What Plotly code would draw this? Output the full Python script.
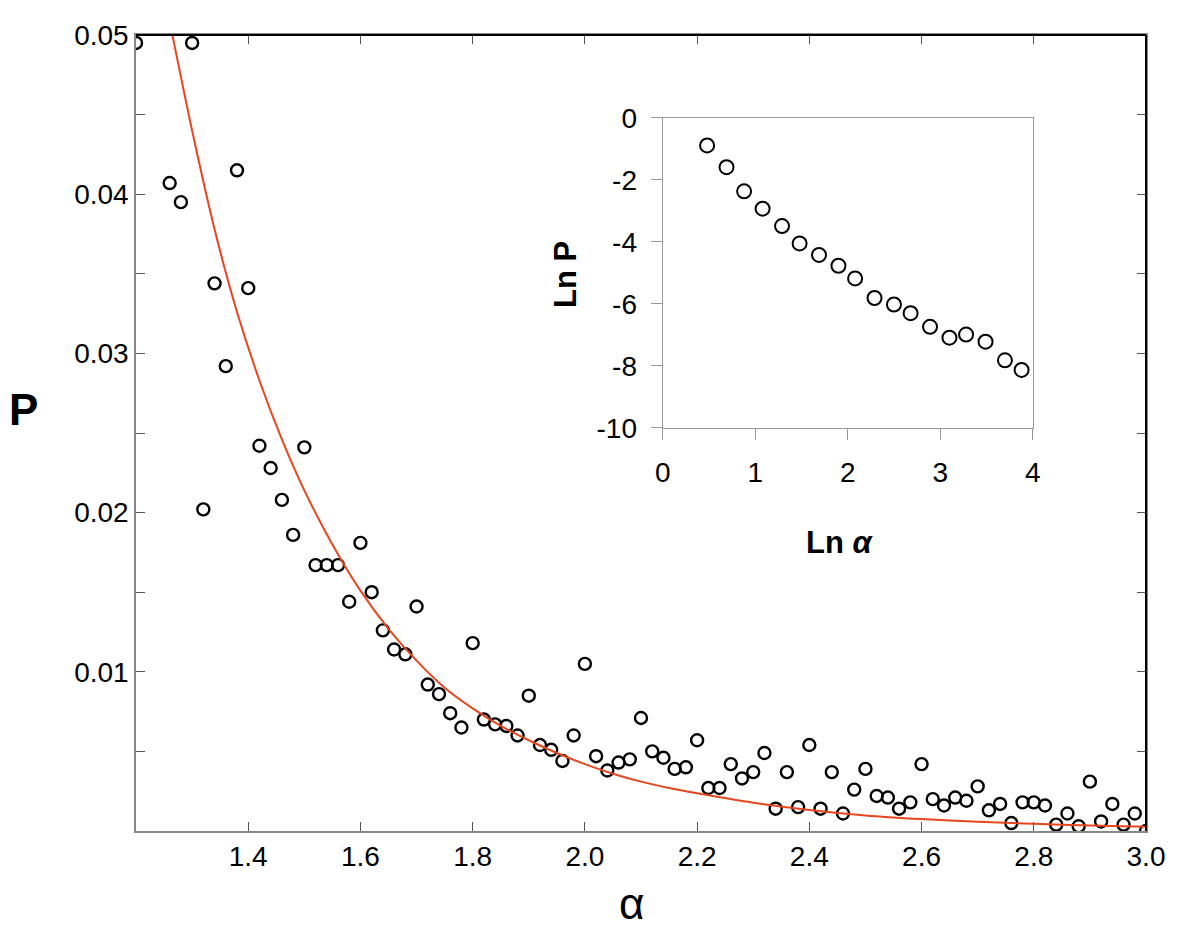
import plotly.graph_objects as go

# ---- main scatter data ----
alpha = [1.20, 1.26, 1.28, 1.30, 1.32, 1.34, 1.36, 1.38, 1.40, 1.42, 1.44, 1.46, 1.48, 1.50,
         1.52, 1.54, 1.56, 1.58, 1.60, 1.62, 1.64, 1.66, 1.68, 1.70, 1.72, 1.74, 1.76, 1.78,
         1.80, 1.82, 1.84, 1.86, 1.88, 1.90, 1.92, 1.94, 1.96, 1.98, 2.00, 2.02, 2.04, 2.06,
         2.08, 2.10, 2.12, 2.14, 2.16, 2.18, 2.20, 2.22, 2.24, 2.26, 2.28, 2.30, 2.32, 2.34,
         2.36, 2.38, 2.40, 2.42, 2.44, 2.46, 2.48, 2.50, 2.52, 2.54, 2.56, 2.58, 2.60, 2.62,
         2.64, 2.66, 2.68, 2.70, 2.72, 2.74, 2.76, 2.78, 2.80, 2.82, 2.84, 2.86, 2.88, 2.90,
         2.92, 2.94, 2.96, 2.98, 3.00]
P = [0.0495, 0.0407, 0.0395, 0.0495, 0.0202, 0.0344, 0.0292, 0.0415, 0.0341, 0.0242, 0.0228,
     0.0208, 0.0186, 0.0241, 0.0167, 0.0167, 0.0167, 0.0144, 0.0181, 0.0150, 0.0126, 0.0114,
     0.0111, 0.0141, 0.0092, 0.0086, 0.0074, 0.0065, 0.0118, 0.0070, 0.0067, 0.0066, 0.0060,
     0.0085, 0.0054, 0.0051, 0.0044, 0.0060, 0.0105, 0.0047, 0.0038, 0.0043, 0.0045, 0.0071,
     0.0050, 0.0046, 0.0039, 0.0040, 0.0057, 0.0027, 0.0027, 0.0042, 0.0033, 0.0037, 0.0049,
     0.0014, 0.0037, 0.0015, 0.0054, 0.0014, 0.0037, 0.0011, 0.0026, 0.0039, 0.0022, 0.0021,
     0.0014, 0.0018, 0.0042, 0.0020, 0.0016, 0.0021, 0.0019, 0.0028, 0.0013, 0.0017, 0.0005,
     0.0018, 0.0018, 0.0016, 0.0004, 0.0011, 0.0003, 0.0031, 0.0006, 0.0017, 0.0004, 0.0011,
     0.0000]

# ---- fitted curve ----
fit_alpha = [1.262, 1.30, 1.34, 1.38, 1.42, 1.46, 1.50, 1.55, 1.60, 1.65, 1.70, 1.75, 1.80,
             1.85, 1.90, 1.95, 2.00, 2.05, 2.10, 2.15, 2.20, 2.30, 2.40, 2.50, 2.60, 2.70,
             2.80, 2.90, 3.00]
fit_P = [0.0505, 0.0440, 0.0378, 0.0326, 0.0283, 0.0246, 0.0214, 0.0180, 0.0151, 0.0127,
         0.0107, 0.0090, 0.0077, 0.0066, 0.0057, 0.0049, 0.0042, 0.0036, 0.0031, 0.0027,
         0.00237, 0.00178, 0.00132, 0.00098, 0.00075, 0.00058, 0.00045, 0.00035, 0.00027]

# ---- inset data ----
ln_alpha = [0.48, 0.69, 0.88, 1.08, 1.29, 1.48, 1.69, 1.90, 2.08, 2.29, 2.50, 2.68, 2.89,
            3.10, 3.28, 3.49, 3.70, 3.88]
ln_P = [-0.89, -1.59, -2.37, -2.93, -3.49, -4.05, -4.42, -4.77, -5.18, -5.81, -6.02, -6.30,
        -6.74, -7.09, -6.99, -7.22, -7.82, -8.13]

# ---- tick labels ----
x_ticks = [1.4, 1.6, 1.8, 2.0, 2.2, 2.4, 2.6, 2.8, 3.0]
x_ticktext = ["1.4", "1.6", "1.8", "2.0", "2.2", "2.4", "2.6", "2.8", "3.0"]
y_ticks = [0.01, 0.02, 0.03, 0.04, 0.05]
y_ticktext = ["0.01", "0.02", "0.03", "0.04", "0.05"]
y_minor = [0.005, 0.015, 0.025, 0.035, 0.045]
ix_ticks = [0, 1, 2, 3, 4]
ix_ticktext = ["0", "1", "2", "3", "4"]
iy_ticks = [0, -2, -4, -6, -8, -10]
iy_ticktext = ["0", "-2", "-4", "-6", "-8", "-10"]

FONT = "Liberation Sans, Arial, Helvetica, sans-serif"
PAGE_MARGIN = 8  # default body margin of the html page
W, H = 1200 - 2 * PAGE_MARGIN, 939 - 2 * PAGE_MARGIN
# plot area in window pixels
L, R, T, B = 136, 1146, 30.7, 831
pw, ph = R - L, B - T


def px(xp):
    return (xp - L) / pw


def py(yp):
    return (B - yp) / ph


fig = go.Figure()
fig.add_trace(go.Scatter(x=alpha, y=P, mode="markers",
                         marker=dict(symbol="circle-open", size=12, color="black",
                                     line=dict(width=2.4, color="black")),
                         xaxis="x", yaxis="y", showlegend=False))
fig.add_trace(go.Scatter(x=fit_alpha, y=fit_P, mode="lines",
                         line=dict(color="#E8461E", width=2, shape="spline", smoothing=0.8),
                         xaxis="x", yaxis="y", showlegend=False))
fig.add_trace(go.Scatter(x=ln_alpha, y=ln_P, mode="markers",
                         marker=dict(symbol="circle-open", size=14, color="black",
                                     line=dict(width=2, color="black")),
                         xaxis="x2", yaxis="y2", showlegend=False))

fig.update_layout(
    width=W, height=H,
    margin=dict(l=L - PAGE_MARGIN, r=1200 - R - PAGE_MARGIN, t=T - PAGE_MARGIN,
                b=939 - B - PAGE_MARGIN),
    paper_bgcolor="white", plot_bgcolor="white",
    font=dict(family=FONT, color="black"),
    xaxis=dict(domain=[0, 1], range=[1.2, 3.0], tickmode="array", tickvals=x_ticks,
               ticktext=x_ticktext, ticks="inside", ticklen=9, tickcolor="#555",
               tickwidth=1.3, showline=True, linecolor="#888", linewidth=1.5,
               mirror="allticks", showgrid=False, zeroline=False,
               tickfont=dict(size=28, family=FONT), ticklabelstandoff=0),
    yaxis=dict(domain=[0, 1], range=[0, 0.05], tickmode="array", tickvals=y_ticks,
               ticktext=y_ticktext, ticks="inside", ticklen=9, tickcolor="#555",
               tickwidth=1.3, showline=True, linecolor="#888", linewidth=1.5,
               mirror="allticks", showgrid=False, zeroline=False,
               tickfont=dict(size=28, family=FONT), ticklabelstandoff=0,
               minor=dict(tickmode="array", tickvals=y_minor, ticks="inside", ticklen=9,
                          tickcolor="#555", tickwidth=1.3, showgrid=False)),
    xaxis2=dict(domain=[px(662.7), px(1032.7)], anchor="y2", range=[0, 4],
                tickmode="array", tickvals=ix_ticks, ticktext=ix_ticktext,
                ticks="outside", ticklen=11, tickcolor="#999", showline=True,
                linecolor="#999", linewidth=1.2, mirror=True, showgrid=False,
                zeroline=False, tickfont=dict(size=28, family=FONT), ticklabelstandoff=8),
    yaxis2=dict(domain=[py(425.7), py(114)], anchor="x2", range=[-10, 0],
                tickmode="array", tickvals=iy_ticks, ticktext=iy_ticktext,
                ticks="outside", ticklen=11, tickcolor="#999", showline=True,
                linecolor="#999", linewidth=1.2, mirror=True, showgrid=False,
                zeroline=False, tickfont=dict(size=28, family=FONT), ticklabelstandoff=8),
    shapes=[
        dict(type="line", xref="paper", yref="paper", x0=0, x1=1, y0=1, y1=1,
             line=dict(color="black", width=2)),
        dict(type="line", xref="paper", yref="paper", x0=1, x1=1, y0=0, y1=1,
             line=dict(color="black", width=2)),
    ],
    annotations=[
        dict(text="<b>P</b>", xref="paper", yref="paper", x=px(23.5), y=py(407.5),
             showarrow=False, font=dict(size=44, family=FONT), xanchor="center",
             yanchor="middle"),
        dict(text="α", xref="paper", yref="paper", x=px(631), y=py(904),
             showarrow=False, font=dict(size=44, family=FONT), xanchor="center",
             yanchor="middle"),
        dict(text="<b>Ln P</b>", xref="paper", yref="paper", x=px(565), y=py(272),
             showarrow=False, textangle=-90, font=dict(size=31, family=FONT),
             xanchor="center", yanchor="middle"),
        dict(text="<b>Ln <i>α</i></b>", xref="paper", yref="paper", x=px(840), y=py(541),
             showarrow=False, font=dict(size=31, family=FONT), xanchor="center",
             yanchor="middle"),
    ],
)

fig.write_html("out.html")
